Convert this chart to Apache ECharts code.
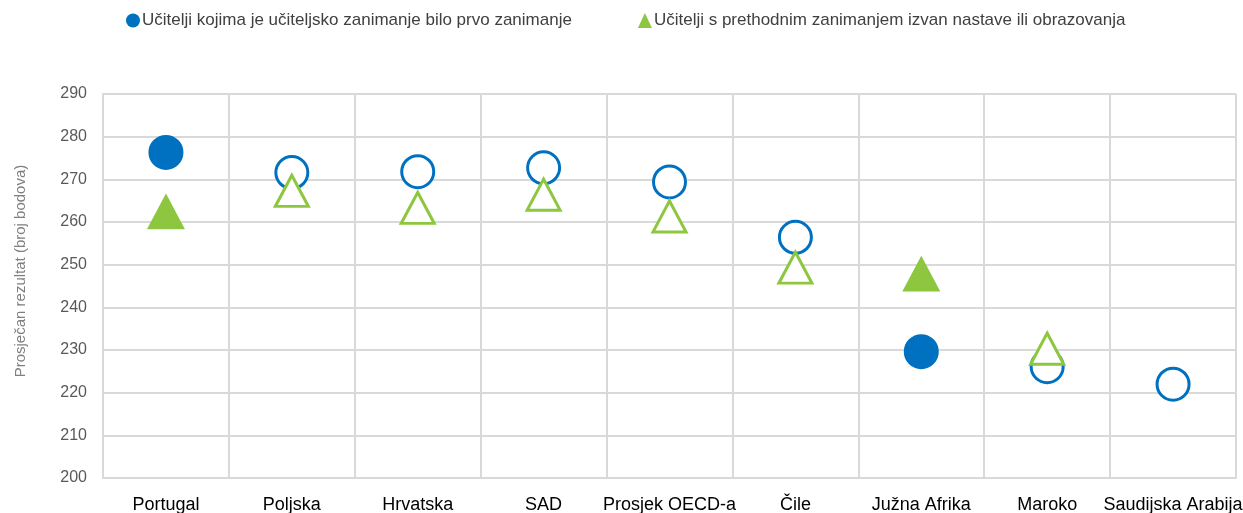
<!DOCTYPE html>
<html>
<head>
<meta charset="utf-8">
<script src="https://cdn.jsdelivr.net/npm/echarts@6/dist/echarts.min.js"></script>
<style>
  html, body { margin: 0; padding: 0; background: #fff; }
  #chart { width: 1243px; height: 513px; }
</style>
</head>
<body>
<div id="chart"></div>
<script>
// Teachers' average score by first career vs. career changers

var countries = ['Portugal', 'Poljska', 'Hrvatska', 'SAD', 'Prosjek OECD-a', 'Čile', 'Južna Afrika', 'Maroko', 'Saudijska Arabija'];
var firstCareer = [276.3, 271.6, 271.8, 272.7, 269.4, 256.4, 229.6, 226.1, 222.0];
var changedCareer = [262.3, 267.3, 263.3, 266.4, 261.3, 249.3, 247.7, 230.3, null];
// countries where the difference is significant (filled markers)
var significant = ['Portugal', 'Južna Afrika'];

var blue = '#0070c0';
var green = '#8dc63f';

function points(values, color) {
    return values.map(function (v, i) {
        if (significant.indexOf(countries[i]) >= 0) {
            return { value: v, itemStyle: { color: color, borderColor: color } };
        }
        return v;
    });
}

var chart = echarts.init(document.getElementById('chart'));

var option = {
    animation: false,
    textStyle: { fontFamily: 'Liberation Sans, Arial, sans-serif' },
    legend: {
        top: 12,
        left: 126,
        padding: 0,
        itemGap: 66,
        itemWidth: 14,
        itemHeight: 15,
        textStyle: { fontSize: 17, color: '#404040', padding: [0, 0, 0, -3] },
        data: [
            { name: 'Učitelji kojima je učiteljsko zanimanje bilo prvo zanimanje', icon: 'circle', itemStyle: { color: blue, borderWidth: 0 } },
            { name: 'Učitelji s prethodnim zanimanjem izvan nastave ili obrazovanja', icon: 'triangle', itemStyle: { color: green, borderWidth: 0 } }
        ]
    },
    grid: { left: 103, right: 7, top: 94, bottom: 35, outerBoundsMode: 'none' },
    xAxis: {
        type: 'category',
        data: countries,
        boundaryGap: true,
        axisLine: { show: true, lineStyle: { color: '#d9d9d9', width: 2 } },
        axisTick: { show: false },
        axisLabel: { color: '#000', fontSize: 18, margin: 18, interval: 0 },
        splitLine: { show: true, lineStyle: { color: '#d9d9d9', width: 2 } }
    },
    yAxis: {
        type: 'value',
        min: 200,
        max: 290,
        interval: 10,
        name: 'Prosječan rezultat (broj bodova)',
        nameLocation: 'middle',
        nameGap: 75,
        nameTextStyle: { color: '#7f7f7f', fontSize: 15, padding: [0, 0, 0, 30] },
        axisLine: { show: true, lineStyle: { color: '#d9d9d9', width: 2 } },
        axisTick: { show: false },
        axisLabel: { color: '#595959', fontSize: 16, margin: 16 },
        splitLine: { lineStyle: { color: '#d9d9d9', width: 2 } }
    },
    series: [
        {
            name: 'Učitelji kojima je učiteljsko zanimanje bilo prvo zanimanje',
            type: 'scatter',
            symbol: 'circle',
            symbolSize: 32,
            itemStyle: { color: '#fff', borderColor: blue, borderWidth: 3, opacity: 1 },
            data: points(firstCareer, blue)
        },
        {
            name: 'Učitelji s prethodnim zanimanjem izvan nastave ili obrazovanja',
            type: 'scatter',
            symbol: 'triangle',
            symbolSize: [33, 31],
            itemStyle: { color: '#fff', borderColor: green, borderWidth: 3, opacity: 1 },
            data: points(changedCareer, green)
        }
    ]
};

chart.setOption(option);
</script>
</body>
</html>
